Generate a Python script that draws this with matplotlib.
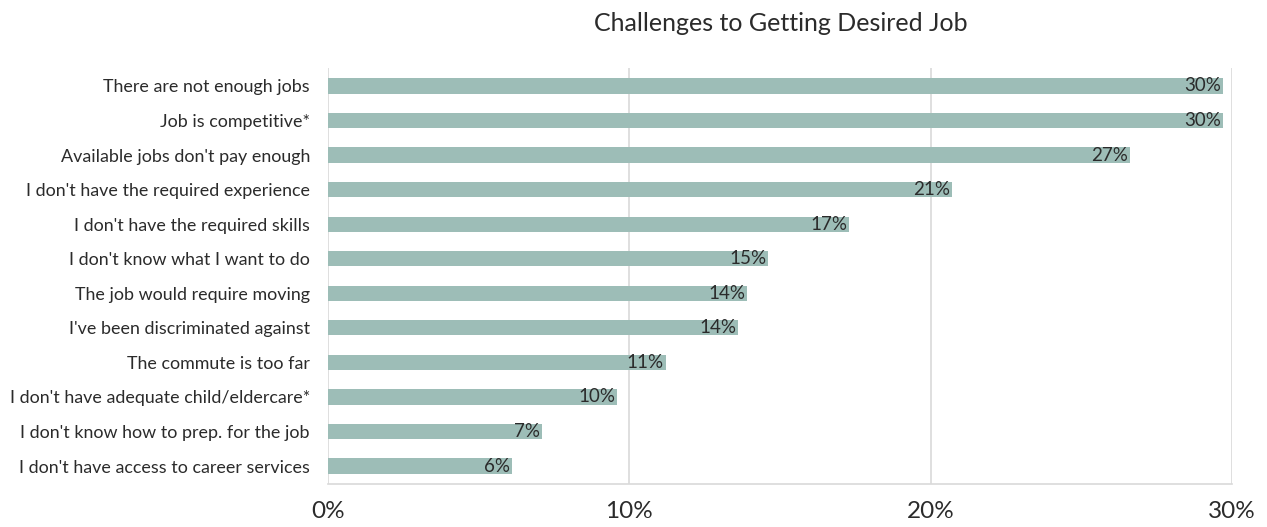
import matplotlib
matplotlib.use("Agg")
import matplotlib.pyplot as plt

categories = [
    "There are not enough jobs",
    "Job is competitive*",
    "Available jobs don't pay enough",
    "I don't have the required experience",
    "I don't have the required skills",
    "I don't know what I want to do",
    "The job would require moving",
    "I've been discriminated against",
    "The commute is too far",
    "I don't have adequate child/eldercare*",
    "I don't know how to prep. for the job",
    "I don't have access to career services",
]
values = [29.7, 29.7, 26.6, 20.7, 17.3, 14.6, 13.9, 13.6, 11.2, 9.6, 7.1, 6.1]
xticks = [0, 10, 20, 30]
xtick_labels = ["0%", "10%", "20%", "30%"]
title = "Challenges to Getting Desired Job"

plt.rcParams['font.family'] = ['Lato', 'DejaVu Sans']
text_color = "#2b2b2b"
bar_color = "#9dbdb7"
grid_color = "#d9d9d9"

fig = plt.figure(figsize=(12.67, 5.27), dpi=100)
ax = fig.add_axes([0.2589, 0.0816, 0.7135, 0.7894])

y = list(range(len(categories)))
ax.barh(y, values, height=0.44, color=bar_color, zorder=2)
for yi, v in zip(y, values):
    ax.text(v - 0.05, yi, f"{v:.0f}%", ha="right", va="center",
            fontsize=13.5, color=text_color, zorder=3)

ax.set_xlim(0, 30)
ax.set_ylim(len(categories) - 0.48, -0.52)
ax.set_yticks(y)
ax.set_yticklabels(categories, fontsize=12.9, color=text_color)
ax.set_xticks(xticks)
ax.set_xticklabels(xtick_labels, fontsize=17.5, color=text_color)
ax.tick_params(axis="y", length=0, pad=13)
ax.tick_params(axis="x", length=0, pad=12)
for xt in xticks:
    ax.axvline(xt, color=grid_color, lw=1.2, zorder=1)
for s in ["top", "right", "left"]:
    ax.spines[s].set_visible(False)
ax.spines["bottom"].set_color(grid_color)
ax.spines["bottom"].set_linewidth(1.2)

fig.text(0.616, 0.955, title, ha="center", va="center", fontsize=18, color=text_color)

fig.savefig("out.png", dpi=100, facecolor="white")
